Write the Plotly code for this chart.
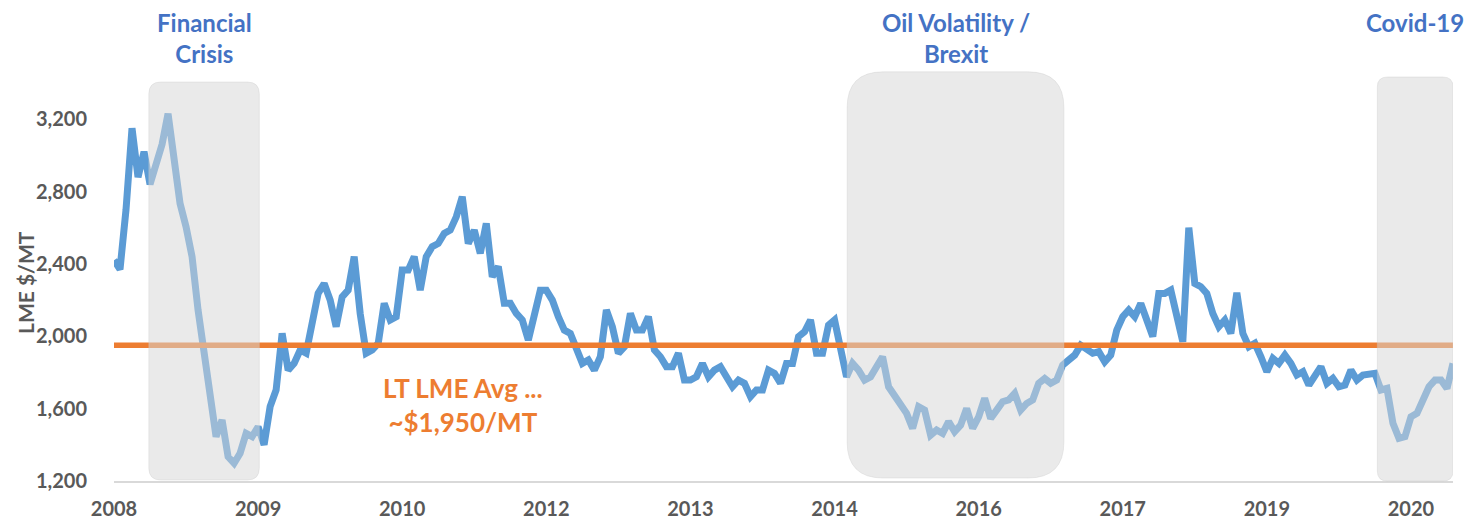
import plotly.graph_objects as go

# ---------------- data ----------------
prices = [
    2420, 2370, 2700, 3150, 2880, 3020, 2840, 2950, 3060, 3230,
    2955, 2734, 2605, 2440, 2145, 1887, 1648, 1445, 1537, 1334,
    1298, 1353, 1463, 1445, 1500, 1400, 1611, 1703, 2016, 1813,
    1850, 1924, 1906, 2053, 2237, 2292, 2200, 2053, 2218, 2255,
    2440, 2126, 1906, 1924, 1961, 2182, 2090, 2108, 2366, 2366,
    2440, 2255, 2440, 2495, 2513, 2569, 2587, 2660, 2771, 2513,
    2587, 2458, 2624, 2329, 2385, 2182, 2182, 2126, 2090, 1979,
    2126, 2255, 2255, 2200, 2108, 2034, 2016, 1942, 1850, 1869,
    1813, 1887, 2145, 2053, 1906, 1942, 2126, 2034, 2034, 2108,
    1924, 1887, 1832, 1832, 1906, 1758, 1758, 1776, 1850, 1776,
    1813, 1832, 1776, 1721, 1758, 1740, 1666, 1703, 1703, 1813,
    1795, 1740, 1850, 1850, 1998, 2025, 2090, 1906, 1906, 2062,
    2090, 1924, 1776, 1850, 1813, 1758, 1776, 1832, 1887, 1721,
    1675, 1629, 1574, 1491, 1611, 1592, 1454, 1482, 1463, 1528,
    1473, 1509, 1601, 1491, 1555, 1657, 1546, 1592, 1638, 1648,
    1684, 1592, 1629, 1648, 1740, 1767, 1740, 1758, 1841, 1869,
    1896, 1951, 1924, 1906, 1915, 1859, 1896, 2034, 2108, 2145,
    2108, 2182, 2090, 1998, 2237, 2237, 2255, 2126, 1970, 2600,
    2292, 2274, 2237, 2126, 2053, 2090, 2016, 2240, 2016, 1942,
    1961, 1887, 1804, 1878, 1850, 1896, 1850, 1786, 1804, 1730,
    1786, 1832, 1740, 1767, 1721, 1730, 1813, 1758, 1786, 1786,
    1795, 1703, 1712, 1519, 1436, 1445, 1555, 1574, 1638, 1721,
    1758, 1758, 1712, 1850,
]
lt_avg = 1950
x_tick_labels = ["2008", "2009", "2010", "2012", "2013", "2014", "2016", "2017", "2019", "2020"]
label_every = 24  # category axis: one label every 24 points
y_ticks = [1200, 1600, 2000, 2400, 2800, 3200]

# highlighted periods (title, start index, end index)
period_titles = ["Financial<br>Crisis", "Oil Volatility /<br>Brexit", "Covid-19"]
period_start = [5.8, 122.1, 210.4]
period_end = [24.2, 158.2, 223.0]

# ---------------- styles ----------------
# page has an 8px body margin, so the figure is 8px smaller than the window
W, H = 1468, 514
ML, MR, MT, MB = 106, 23, 75, 41
PW, PH = W - ML - MR, H - MT - MB
box_y = [(0.0025, 1.0025), (0.0075, 1.028), (0.0, 1.015)]
box_r = [12, 36, 10]
title_y = [1.112, 1.112, 1.152]

BLUE = "#5B9BD5"
ORANGE = "#ED7D31"
TITLE_BLUE = "#4472C4"
GREY = "#595959"
FONT = "Lato"

n = len(prices)
xs = list(range(n))
px_per_x = PW / (n - 1)

fig = go.Figure()
fig.add_trace(go.Scatter(x=xs, y=prices, mode="lines",
                         line=dict(color=BLUE, width=7), hoverinfo="skip"))
fig.add_trace(go.Scatter(x=xs, y=[lt_avg] * n, mode="lines",
                         line=dict(color=ORANGE, width=5.5), hoverinfo="skip"))


def rounded_path(x0, x1, y0, y1, r):
    rx = r / px_per_x
    ry = r / PH
    return (f"M {x0 + rx},{y0} L {x1 - rx},{y0} Q {x1},{y0} {x1},{y0 + ry} "
            f"L {x1},{y1 - ry} Q {x1},{y1} {x1 - rx},{y1} "
            f"L {x0 + rx},{y1} Q {x0},{y1} {x0},{y1 - ry} "
            f"L {x0},{y0 + ry} Q {x0},{y0} {x0 + rx},{y0} Z")


shapes = []
annotations = []
for t, s, e, (yb, yt), r, ty in zip(period_titles, period_start, period_end, box_y, box_r, title_y):
    shapes.append(dict(type="path", xref="x", yref="paper", layer="above",
                       path=rounded_path(s, e, yb, yt, r),
                       fillcolor="rgba(214,214,214,0.52)",
                       line=dict(width=1, color="rgba(200,200,200,0.35)")))
    annotations.append(dict(x=(s + e) / 2, y=ty, xref="x", yref="paper",
                            text=t, showarrow=False, xanchor="center", yanchor="middle",
                            font=dict(family=FONT, size=24, color=TITLE_BLUE, weight="bold")))

annotations.append(dict(x=(463 - 114) / PW, y=0.191, xref="paper", yref="paper",
                        text="LT LME Avg ...<br>~$1,950/MT", showarrow=False,
                        xanchor="center", yanchor="middle",
                        font=dict(family=FONT, size=26, color=ORANGE, weight="bold")))
annotations.append(dict(x=(25 - 114) / PW, y=0.5, xref="paper", yref="paper",
                        text="LME $/MT", textangle=-90, showarrow=False,
                        xanchor="center", yanchor="middle",
                        font=dict(family=FONT, size=21, color=GREY, weight="bold")))

fig.update_layout(
    width=W, height=H,
    margin=dict(l=ML, r=MR, t=MT, b=MB, autoexpand=False),
    paper_bgcolor="white", plot_bgcolor="white",
    showlegend=False,
    shapes=shapes, annotations=annotations,
    xaxis=dict(range=[0, n - 1], showgrid=False, zeroline=False, automargin=False,
               tickvals=[i * label_every for i in range(len(x_tick_labels))],
               ticktext=x_tick_labels,
               ticks="outside", ticklen=9, tickcolor="rgba(0,0,0,0)",
               showline=True, linecolor="#D9D9D9", linewidth=2,
               tickfont=dict(family=FONT, size=20, color=GREY, weight="bold")),
    yaxis=dict(range=[1200, 3400], showgrid=False, zeroline=False, automargin=False,
               tickvals=y_ticks, tickformat=",d",
               ticks="outside", ticklen=22, tickcolor="rgba(0,0,0,0)",
               showline=False,
               tickfont=dict(family=FONT, size=20, color=GREY, weight="bold")),
)

fig.write_html("out.html")
